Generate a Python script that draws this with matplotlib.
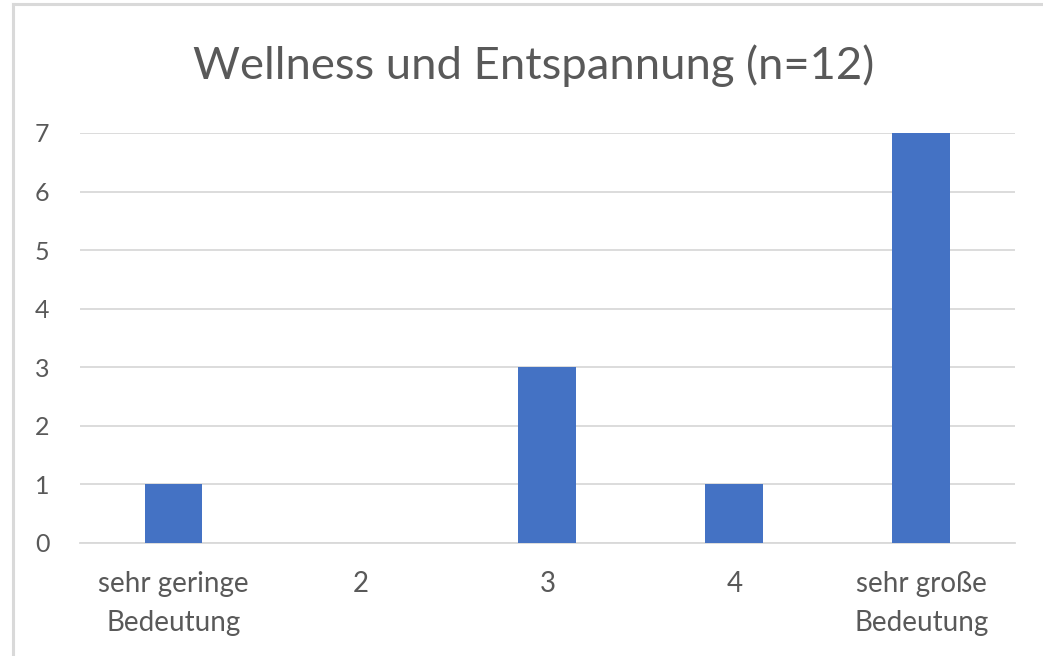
import matplotlib.pyplot as plt
from matplotlib.lines import Line2D

categories = ['sehr geringe\nBedeutung', '2', '3', '4', 'sehr große\nBedeutung']
counts = [1, 0, 3, 1, 7]
title = 'Wellness und Entspannung (n=12)'

plt.rcParams['font.family'] = ['Lato', 'DejaVu Sans']

fig = plt.figure(figsize=(10.43, 6.56), dpi=100)
ax = fig.add_axes([0.0767, 0.1723, 0.8963, 0.6250])

x = range(len(categories))
ax.bar(x, counts, width=0.31, color='#4472C4', zorder=3)

ax.set_xlim(-0.5, len(categories) - 0.5)
ax.set_ylim(0, 7)
ax.set_yticks(range(0, 8))
ax.set_xticks(list(x))
ax.set_xticklabels(categories, fontsize=20, color='#595959', linespacing=1.62)
ax.tick_params(axis='y', labelsize=18, labelcolor='#595959', length=0, pad=22)
ax.tick_params(axis='x', length=0, pad=20)
ax.grid(axis='y', color='#D9D9D9', linewidth=1.3, zorder=0)
for s in ['top', 'right', 'left']:
    ax.spines[s].set_visible(False)
ax.spines['bottom'].set_color('#D9D9D9')
ax.spines['bottom'].set_linewidth(1.3)

fig.text(0.512, 0.9, title, ha='center', va='center', fontsize=32.7, color='#595959')

# chart border (only left and top edges visible in the crop)
fig.add_artist(Line2D([12.5 / 1043, 12.5 / 1043], [0, 1 - 4 / 656], transform=fig.transFigure,
                      color='#D9D9D9', linewidth=2.2))
fig.add_artist(Line2D([12.5 / 1043, 1], [1 - 4 / 656, 1 - 4 / 656], transform=fig.transFigure,
                      color='#D9D9D9', linewidth=2.2))

fig.savefig('out.png', dpi=100, facecolor='white')
